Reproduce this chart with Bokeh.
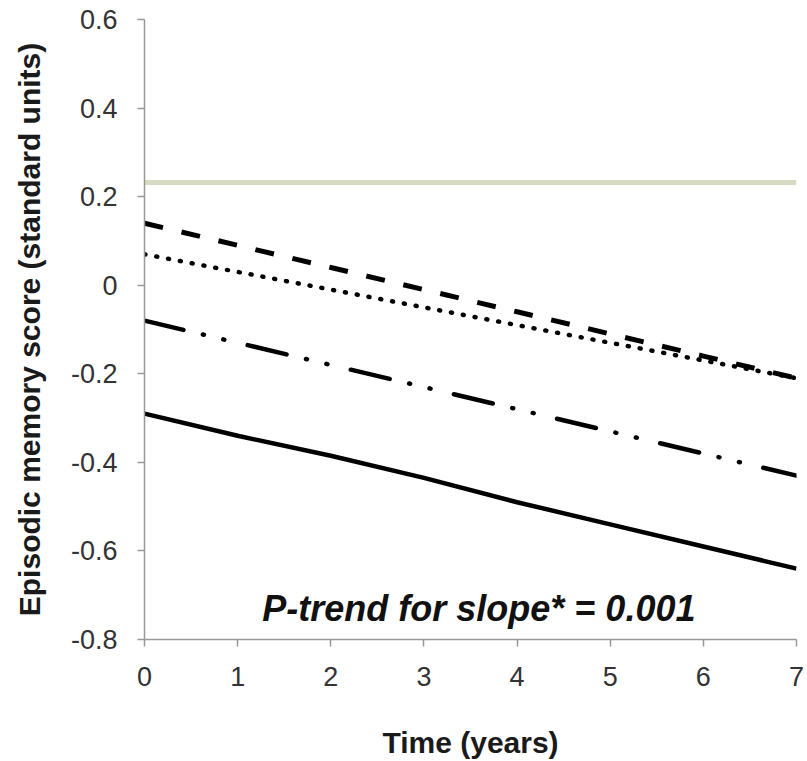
from bokeh.plotting import figure
from bokeh.models import Range1d, FixedTicker, Label
from bokeh.embed import file_html
from bokeh.resources import INLINE

years = [0, 1, 2, 3, 4, 5, 6, 7]
reference_flat = [0.232, 0.232, 0.232, 0.232, 0.232, 0.232, 0.232, 0.232]
dashed_vals = [0.14, 0.09, 0.04, -0.01, -0.06, -0.11, -0.16, -0.21]
dotted_vals = [0.07, 0.03, -0.01, -0.05, -0.09, -0.13, -0.17, -0.21]
dashdot_vals = [-0.08, -0.13, -0.18, -0.23, -0.28, -0.33, -0.38, -0.43]
solid_vals = [-0.29, -0.34, -0.385, -0.435, -0.49, -0.54, -0.59, -0.64]

x_ticks = [0, 1, 2, 3, 4, 5, 6, 7]
y_ticks = [-0.8, -0.6, -0.4, -0.2, 0, 0.2, 0.4, 0.6]
y_tick_labels = {-0.8: "-0.8", -0.6: "-0.6", -0.4: "-0.4", -0.2: "-0.2",
                 0: "0", 0.2: "0.2", 0.4: "0.4", 0.6: "0.6"}
annotation = "P-trend for slope* = 0.001"

FONT = "Liberation Sans"
AXIS_COL = "#999999"

p = figure(frame_width=652, frame_height=620, output_backend="svg",
           toolbar_location=None,
           x_range=Range1d(0, 7), y_range=Range1d(-0.8, 0.6),
           min_border_left=144, min_border_right=11, min_border_top=19,
           min_border_bottom=122)
p.outline_line_color = None
p.xgrid.visible = False
p.ygrid.visible = False
p.background_fill_color = "white"
p.border_fill_color = "white"

p.line(years, reference_flat, line_color="#d6dac2", line_width=5)
p.line(years, dashed_vals, line_color="black", line_width=5, line_dash="19 19")
p.line(years, dotted_vals, line_color="black", line_width=4.5, line_dash="1 11",
       line_cap="round")
p.line(years, dashdot_vals, line_color="black", line_width=4.5,
       line_dash="40 20 1 20 1 24", line_cap="round")
p.line(years, solid_vals, line_color="black", line_width=4.5)

for ax in (p.xaxis[0], p.yaxis[0]):
    ax.axis_line_color = AXIS_COL
    ax.axis_line_width = 1.5
    ax.major_tick_line_color = AXIS_COL
    ax.major_tick_line_width = 1.5
    ax.major_tick_in = 0
    ax.major_tick_out = 7
    ax.minor_tick_line_color = None
    ax.major_label_text_font = FONT
    ax.major_label_text_font_size = "27px"
    ax.major_label_text_color = "#333333"
    ax.axis_label_text_font = FONT
    ax.axis_label_text_font_style = "bold"
    ax.axis_label_text_font_size = "30px"
    ax.axis_label_text_color = "#1a1a1a"

p.xaxis.ticker = FixedTicker(ticks=x_ticks)
p.yaxis.ticker = FixedTicker(ticks=y_ticks)
p.yaxis.major_label_overrides = y_tick_labels
p.xaxis.major_label_standoff = 20
p.yaxis.major_label_standoff = 20
p.xaxis.axis_label = "Time (years)"
p.yaxis.axis_label = "Episodic memory score (standard units)"
p.xaxis.axis_label_standoff = 37
p.yaxis.axis_label_standoff = 22

p.add_layout(Label(x=3.59, y=-0.730, text=annotation, text_font=FONT,
                   text_font_style="bold italic", text_font_size="36px",
                   text_color="#111111", text_align="center",
                   text_baseline="alphabetic"))

open("out.html", "w").write(file_html(p, INLINE))
